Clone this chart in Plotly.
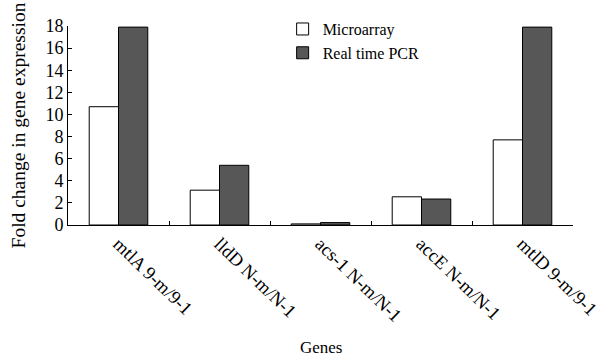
import plotly.graph_objects as go

genes = ["mtlA 9-m/9-1", "lldD N-m/N-1", "acs-1 N-m/N-1", "accE N-m/N-1", "mtlD 9-m/9-1"]
microarray = [10.7, 3.15, 0.1, 2.55, 7.7]
real_time_pcr = [17.9, 5.4, 0.22, 2.35, 17.9]
y_ticks = [0, 2, 4, 6, 8, 10, 12, 14, 16, 18]

FONT = "Liberation Serif"

fig = go.Figure()
fig.add_trace(go.Bar(
    x=genes, y=microarray, name="Microarray",
    marker=dict(color="white", line=dict(color="black", width=1)),
    legendgroup="a",
))
fig.add_trace(go.Bar(
    x=genes, y=real_time_pcr, name="Real time PCR",
    marker=dict(color="#575757", line=dict(color="black", width=1)),
    legendgroup="b",
))

fig.update_layout(
    width=614, height=358,
    margin=dict(l=68, r=41, t=22, b=133),
    paper_bgcolor="white", plot_bgcolor="white",
    barmode="group", bargap=0.42, bargroupgap=0,
    font=dict(family=FONT, size=16, color="black"),
    showlegend=True,
    legend=dict(
        x=0.425, y=1.07, xanchor="left", yanchor="top",
        bgcolor="rgba(0,0,0,0)", font=dict(size=16, family=FONT),
        traceorder="grouped", tracegroupgap=0,
        itemwidth=30, borderwidth=0,
    ),
    xaxis=dict(
        showline=True, linecolor="black", linewidth=1,
        ticks="inside", ticklen=4, tickcolor="black",
        tickson="boundaries", tickangle=44,
        tickfont=dict(size=18.5, family=FONT),
        showgrid=False, zeroline=False,
    ),
    yaxis=dict(
        range=[0, 18], tickvals=y_ticks,
        showline=True, linecolor="black", linewidth=1,
        ticks="inside", ticklen=4, tickcolor="black",
        tickfont=dict(size=18, family=FONT),
        showgrid=False, zeroline=False,
        title=dict(text="Fold change in gene expression", font=dict(size=19.5, family=FONT), standoff=14),
    ),
)

fig.add_annotation(
    text="Genes", xref="paper", yref="paper", x=0.5, y=0, yshift=-134,
    showarrow=False, font=dict(size=17, family=FONT), yanchor="bottom",
)

fig.write_html("out.html")
